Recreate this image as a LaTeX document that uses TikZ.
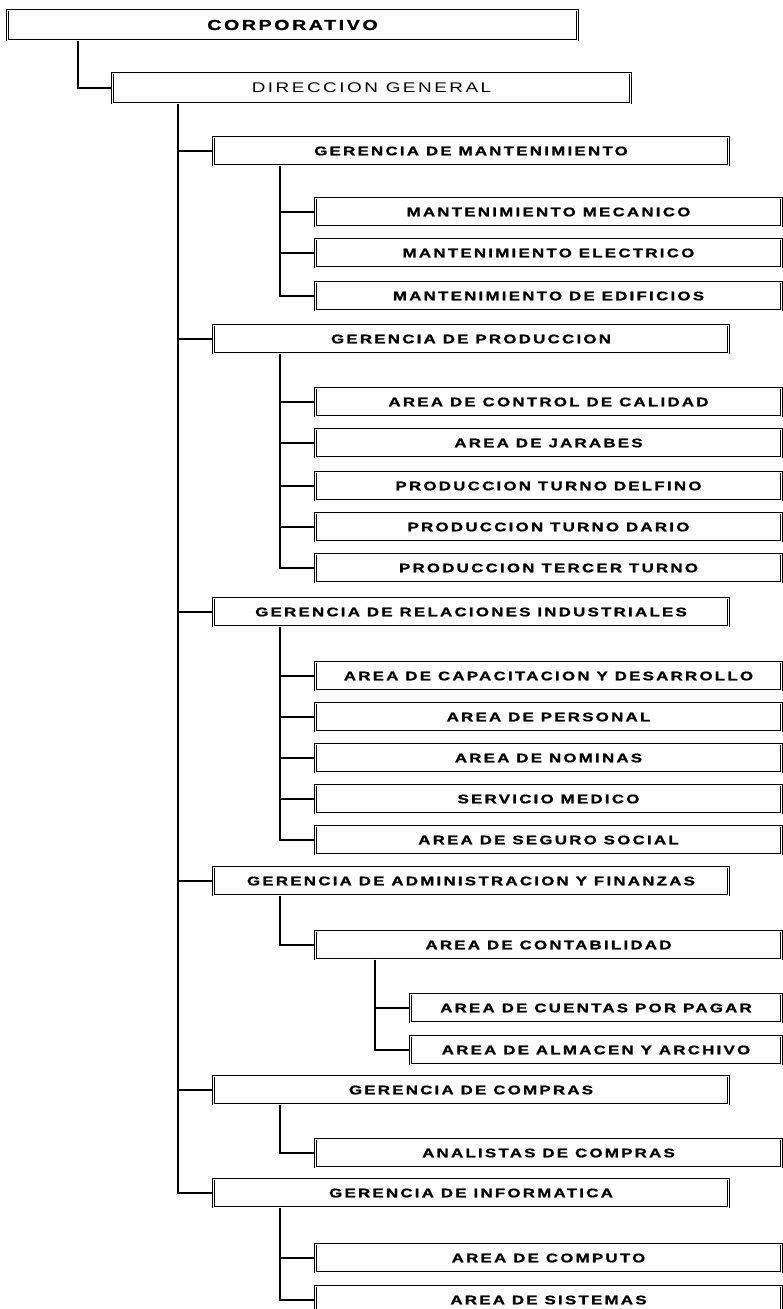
\documentclass[tikz,border=0pt]{standalone}
\usepackage{fontspec}
\newfontfamily\orgfont{Liberation Sans}[FakeStretch=1.35, LetterSpace=18,
    BoldFeatures={FakeBold=1.2}]

\begin{document}
\begin{tikzpicture}[x=1pt, y=-1pt,
    orgbox/.style={draw, line width=1pt, double, double distance=0.7pt,
        rectangle, inner sep=0pt, anchor=west, minimum height=28pt,
        font=\orgfont\bfseries\fontsize{12.5}{14}\selectfont},
    gbox/.style={orgbox, minimum width=515pt},
    abox/.style={orgbox, minimum width=466pt},
    conn/.style={line width=1.9pt}]
    \useasboundingbox (0,0) rectangle (783,1309);
    \clip (0,0) rectangle (783,1309);

    % Columns of the connectors
    \coordinate (t0) at (78,0);
    \coordinate (t1) at (178,0);
    \coordinate (t2) at (280,0);
    \coordinate (t3) at (375,0);

    % Top of the chart
    \node[orgbox, minimum width=570pt, minimum height=30pt,
        font=\orgfont\bfseries\fontsize{14.5}{16}\selectfont] (corp) at (7,25) {CORPORATIVO};
    \node[orgbox, minimum width=518pt, minimum height=30pt,
        font=\orgfont\fontsize{14}{16}\selectfont] (dir) at (112,88) {DIRECCION GENERAL};

    % Gerencias
    \node[gbox] (gman) at (213,151) {GERENCIA DE MANTENIMIENTO};
    \node[gbox] (gprod) at (213,339) {GERENCIA DE PRODUCCION};
    \node[gbox] (grel) at (213,612) {GERENCIA DE RELACIONES INDUSTRIALES};
    \node[gbox] (gadm) at (213,881) {GERENCIA DE ADMINISTRACION Y FINANZAS};
    \node[gbox] (gcom) at (213,1090) {GERENCIA DE COMPRAS};
    \node[gbox] (ginf) at (213,1193) {GERENCIA DE INFORMATICA};

    % Mantenimiento
    \node[abox] (mmec) at (315,212) {MANTENIMIENTO MECANICO};
    \node[abox] (mele) at (315,253) {MANTENIMIENTO ELECTRICO};
    \node[abox] (medi) at (315,296) {MANTENIMIENTO DE EDIFICIOS};

    % Produccion
    \node[abox] (acal) at (315,402) {AREA DE CONTROL DE CALIDAD};
    \node[abox] (ajar) at (315,443) {AREA DE JARABES};
    \node[abox] (pdel) at (315,486) {PRODUCCION TURNO DELFINO};
    \node[abox] (pdar) at (315,527) {PRODUCCION TURNO DARIO};
    \node[abox] (pter) at (315,568) {PRODUCCION TERCER TURNO};

    % Relaciones industriales
    \node[abox] (acap) at (315,676) {AREA DE CAPACITACION Y DESARROLLO};
    \node[abox] (aper) at (315,717) {AREA DE PERSONAL};
    \node[abox] (anom) at (315,758) {AREA DE NOMINAS};
    \node[abox] (smed) at (315,799) {SERVICIO MEDICO};
    \node[abox] (aseg) at (315,840) {AREA DE SEGURO SOCIAL};

    % Administracion y finanzas
    \node[abox] (acon) at (315,945) {AREA DE CONTABILIDAD};
    \node[orgbox, minimum width=371pt] (ccue) at (410,1008) {AREA DE CUENTAS POR PAGAR};
    \node[orgbox, minimum width=371pt] (calm) at (410,1050) {AREA DE ALMACEN Y ARCHIVO};

    % Compras e informatica
    \node[abox] (acom) at (315,1153) {ANALISTAS DE COMPRAS};
    \node[abox] (acmp) at (315,1258) {AREA DE COMPUTO};
    \node[abox] (asis) at (315,1300) {AREA DE SISTEMAS};

    % Main lines
    \draw[conn] (corp.south -| t0) |- (dir.west);
    \draw[conn] (dir.south -| t1) |- (ginf.west);
    \foreach \g in {gman,gprod,grel,gadm,gcom}
        \draw[conn] (\g.west -| t1) -- (\g.west);

    % Lines under each gerencia
    \draw[conn] (gman.south -| t2) |- (medi.west);
    \foreach \a in {mmec,mele}
        \draw[conn] (\a.west -| t2) -- (\a.west);
    \draw[conn] (gprod.south -| t2) |- (pter.west);
    \foreach \a in {acal,ajar,pdel,pdar}
        \draw[conn] (\a.west -| t2) -- (\a.west);
    \draw[conn] (grel.south -| t2) |- (aseg.west);
    \foreach \a in {acap,aper,anom,smed}
        \draw[conn] (\a.west -| t2) -- (\a.west);
    \draw[conn] (gadm.south -| t2) |- (acon.west);
    \draw[conn] (acon.south -| t3) |- (calm.west);
    \draw[conn] (ccue.west -| t3) -- (ccue.west);
    \draw[conn] (gcom.south -| t2) |- (acom.west);
    \draw[conn] (ginf.south -| t2) |- (asis.west);
    \draw[conn] (acmp.west -| t2) -- (acmp.west);
\end{tikzpicture}
\end{document}
